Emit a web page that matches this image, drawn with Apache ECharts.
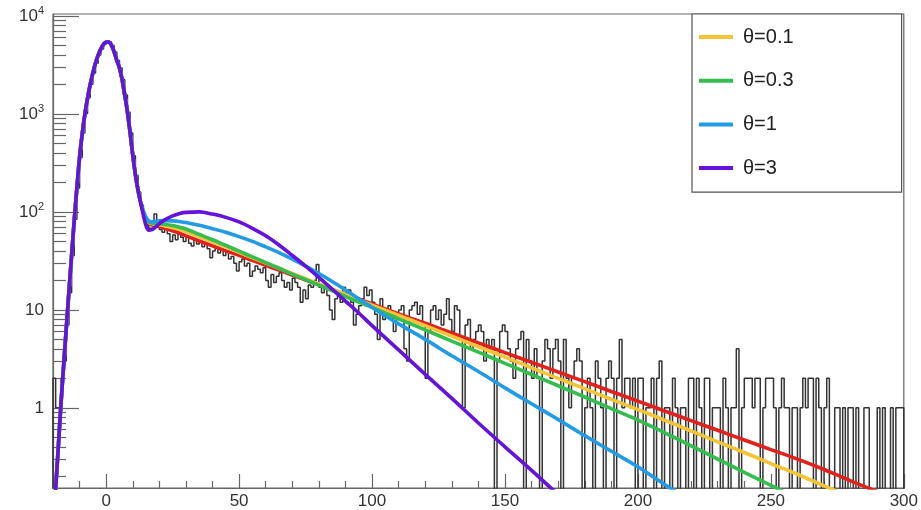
<!DOCTYPE html>
<html>
<head>
<meta charset="utf-8">
<script src="https://cdn.jsdelivr.net/npm/echarts@6/dist/echarts.min.js"></script>
<style>html,body{margin:0;padding:0;background:#fff;}#chart{width:921px;height:510px;}</style>
</head>
<body>
<div id="chart"></div>
<script>
// ---------- data ----------
const xTicks = [0, 50, 100, 150, 200, 250, 300];
const xMinorTicks = [-20, -10, 10, 20, 30, 40, 60, 70, 80, 90, 110, 120, 130, 140, 160, 170, 180, 190, 210, 220, 230, 240, 260, 270, 280, 290];
const yTicks = [1, 10, 100, 1000, 10000];
const yMinorTicks = [0.2,0.3,0.4,0.5,0.6,0.7,0.8,0.9, 2,3,4,5,6,7,8,9, 20,30,40,50,60,70,80,90, 200,300,400,500,600,700,800,900, 2000,3000,4000,5000,6000,7000,8000,9000];

// histogram: bins of width 1, first bin starts at -20
const histStart = -20;
const histPeak = [2,1,1,2,3,7,15,36,84,175,360,640,1010,1460,2010,2620,3300,3990,4600,5140,5420,5440,5000,4300,3520,2940,2230,1560,1040,640,375,235,160,118,90,74,68];
const histBody = [
 68,95,72,66,62,70,60,50,58,52,60,55,50,56,48,45,52,47,50,44,48,42,34,40,44,38,41,36,39,33,35,30,25,31,33,28,30,22,25,28,
 26,24,27,20,17,23,19,22,24,20,17,19,16,21,19,17,12,16,13,18,17,20,29,17,15,18,14,10,8,13,15,12,17,15,16,12,7,9,11,13,
 17,14,16,12,9,5,13,8,10,11,9,6,8,10,11,4,3,10,11,12,9,11,7,2,6,10,11,8,10,7,9,13,8,6,11,10,5,1,7,8,4,5,6,7,
 6,3,5,4,5,0,3,6,7
];
const histTail = [
 6,4,3,2,4,5,6,0,5,3,2,4,2,0,3,5,4,2,4,5,3,0,5,2,1,2,3,4,3,0,
 1,2,1,0,3,2,1,0,2,3,2,0,2,5,1,2,2,1,2,0,2,2,0,1,1,2,0,2,3,0,
 1,1,0,2,1,0,1,1,0,2,2,0,2,1,0,2,2,0,1,1,1,0,2,1,0,1,1,4,0,1,
 2,2,2,1,2,2,0,1,2,2,2,1,0,1,2,1,1,0,1,1,0,1,2,1,2,2,0,2,1,0,
 1,2,0,0,1,1,0,1,0,1,1,0,1,0,0,1,1,0,0,0,1,0,1,0,0,1,0,1,1,1
];

// fitted curves: shared peak, then separate tails
const peakX = [-20,-19,-18,-17,-16,-15,-14,-13,-12,-11,-10,-9,-8,-7,-6,-5,-4,-3,-2,-1,0,1,2,3,4,5,6,7,8,9,10,11,12,13];
const peakY = [0.056,0.15,0.40,1.1,2.7,6.5,15.5,36,83,178,363,630,1000,1450,2000,2630,3310,3980,4620,5130,5430,5430,5010,4310,3510,2950,2240,1550,1050,645,380,240,166,123];
const tailX = [14,15,16,17,18,20,22,25,28,30,35,40,45,50,55,60,65,70,75,80,85,90,95,100,110,120,130,140,150,160,170,180,190,200,210,220,230,240,250,260,270,280,290,300];
const redY    = [98,84,77,74,73,71,68,64,60,57,50.5,45,40,36,32,28.5,25.5,22.7,20.2,18.1,16.1,14.4,12.9,11.5,9.1,7.3,5.8,4.6,3.66,2.92,2.32,1.85,1.47,1.17,0.93,0.74,0.59,0.47,0.375,0.30,0.235,0.18,0.14,0.11];
const theta01Y = [99,85,78,76,75,74,72,69,66,63,56,49.5,44,38.6,34,30.1,26.6,23.5,20.8,18.4,16.3,14.4,12.7,11.2,8.8,6.9,5.4,4.2,3.3,2.56,2.0,1.57,1.22,0.96,0.75,0.58,0.45,0.35,0.27,0.21,0.16,0.123,0.095,0.073];
const theta03Y = [100,86,79,77,76.5,76,75,72.5,69.5,67,59,52,45.5,39.8,34.8,30.4,26.6,23.2,20.4,17.9,15.7,13.7,12.0,10.6,8.1,6.25,4.8,3.7,2.85,2.19,1.68,1.29,0.98,0.75,0.56,0.41,0.30,0.22,0.162,0.118,0.085,0.06,0.043,0.03];
const theta1Y  = [102,88,81,79.5,80,81,81.5,81,79.5,78,73,67.5,62,56,50,44,38.5,33,28,23.5,19.5,16,13,10.6,7.2,5.0,3.4,2.35,1.6,1.1,0.76,0.52,0.36,0.25,0.165,0.113,0.078,0.054,0.037,0.025,0.017,0.012,0.008,0.0055];
const theta3Y  = [92,72,65,65.5,68,76,83,91,97,99,100,95,88,79,68,57,46,36,28,21.5,16.3,12.3,9.3,6.9,3.9,2.2,1.25,0.7,0.4,0.23,0.13,0.075,0.043,0.025,0.014,0.008,0.0046,0.0027,0.0016,0.001,0.0006,0.0004,0.0002,0.0001];

const seriesNames = ['θ=0', 'θ=0.1', 'θ=0.3', 'θ=1', 'θ=3'];
const legendNames = ['θ=0.1', 'θ=0.3', 'θ=1', 'θ=3'];
const colors = ['#e3211c', '#f2c436', '#35bd4f', '#219be6', '#6412dc'];

// ---------- build ----------
const FONT = "'Liberation Sans', Arial, Helvetica, sans-serif";
const histVals = histPeak.concat(histBody, histTail);
const histData = [[histStart, 0.01]];
histVals.forEach((v, i) => histData.push([histStart + i, v > 0 ? v : 0.01]));
histData.push([histStart + histVals.length, histVals[histVals.length - 1] || 0.01]);
histData.push([histStart + histVals.length, 0.01]);

function curve(tail) {
  const d = peakX.map((x, i) => [x, peakY[i]]);
  tailX.forEach((x, i) => d.push([x, tail[i]]));
  return d;
}
const tails = [redY, theta01Y, theta03Y, theta1Y, theta3Y];

const series = [{
  name: 'data', type: 'line', step: 'end', data: histData, symbol: 'none',
  lineStyle: { color: '#333', width: 1.5 }, itemStyle: { color: '#333' },
  clip: true, silent: true, z: 1
}];
tails.forEach((t, k) => series.push({
  name: seriesNames[k], type: 'line', data: curve(t), symbol: 'none', smooth: 0.35,
  lineStyle: { color: colors[k], width: 3.6 }, itemStyle: { color: colors[k] },
  clip: true, z: 2 + k
}));

const YMIN = 0.152, YMAX = 10480;
const chart = echarts.init(document.getElementById('chart'), null, { renderer: 'canvas' });
chart.setOption({
  animation: false,
  backgroundColor: '#fff',
  grid: { left: 53, right: 16, top: 14, bottom: 22, show: true, borderColor: '#666', borderWidth: 1.2, backgroundColor: 'transparent' },
  legend: {
    data: legendNames, orient: 'vertical', left: 692, top: 14,
    icon: 'rect', itemWidth: 34, itemHeight: 4, itemGap: 21.7,
    backgroundColor: '#fff', borderColor: '#555', borderWidth: 1.2, borderRadius: 0,
    padding: [12, 108, 13, 7],
    textStyle: { fontSize: 20, color: '#222', fontFamily: FONT, lineHeight: 22, padding: [0, 0, 0, 5] }
  },
  xAxis: [{
    type: 'value', min: -20, max: 300, position: 'bottom',
    axisLine: { show: true, onZero: false, lineStyle: { color: '#666', width: 1.2 } },
    axisTick: { show: true, inside: true, length: 14, customValues: xTicks, lineStyle: { color: '#666', width: 1.2 } },
    axisLabel: { customValues: xTicks, fontSize: 17, color: '#333', fontFamily: FONT, margin: 5 },
    splitLine: { show: false }
  }, {
    type: 'value', min: -20, max: 300, position: 'bottom', offset: 0,
    axisLine: { show: false, onZero: false },
    axisTick: { show: true, inside: true, length: 7, customValues: xMinorTicks, lineStyle: { color: '#666', width: 1.2 } },
    axisLabel: { show: false }, splitLine: { show: false }
  }],
  yAxis: [{
    type: 'log', logBase: 10, min: YMIN, max: YMAX, position: 'left',
    axisLine: { show: true, onZero: false, lineStyle: { color: '#666', width: 1.2 } },
    axisTick: { show: true, inside: true, length: 26, customValues: yTicks, lineStyle: { color: '#666', width: 1.2 } },
    axisLabel: {
      customValues: yTicks, color: '#333', fontFamily: FONT, fontSize: 17, margin: 9,
      formatter: function (v) {
        const e = Math.round(Math.log10(v));
        if (e === 0) return '1';
        if (e === 1) return '10';
        return '{b|10}{s|' + e + '}';
      },
      rich: {
        b: { fontSize: 17, color: '#333', fontFamily: FONT },
        s: { fontSize: 11, color: '#333', fontFamily: FONT, padding: [0, 0, 10, 0] }
      }
    },
    splitLine: { show: false }
  }, {
    type: 'log', logBase: 10, min: YMIN, max: YMAX, position: 'left', offset: 0,
    axisLine: { show: false, onZero: false },
    axisTick: { show: true, inside: true, length: 13, customValues: yMinorTicks, lineStyle: { color: '#666', width: 1.2 } },
    axisLabel: { show: false }, splitLine: { show: false }
  }],
  series: series
});
</script>
</body>
</html>
